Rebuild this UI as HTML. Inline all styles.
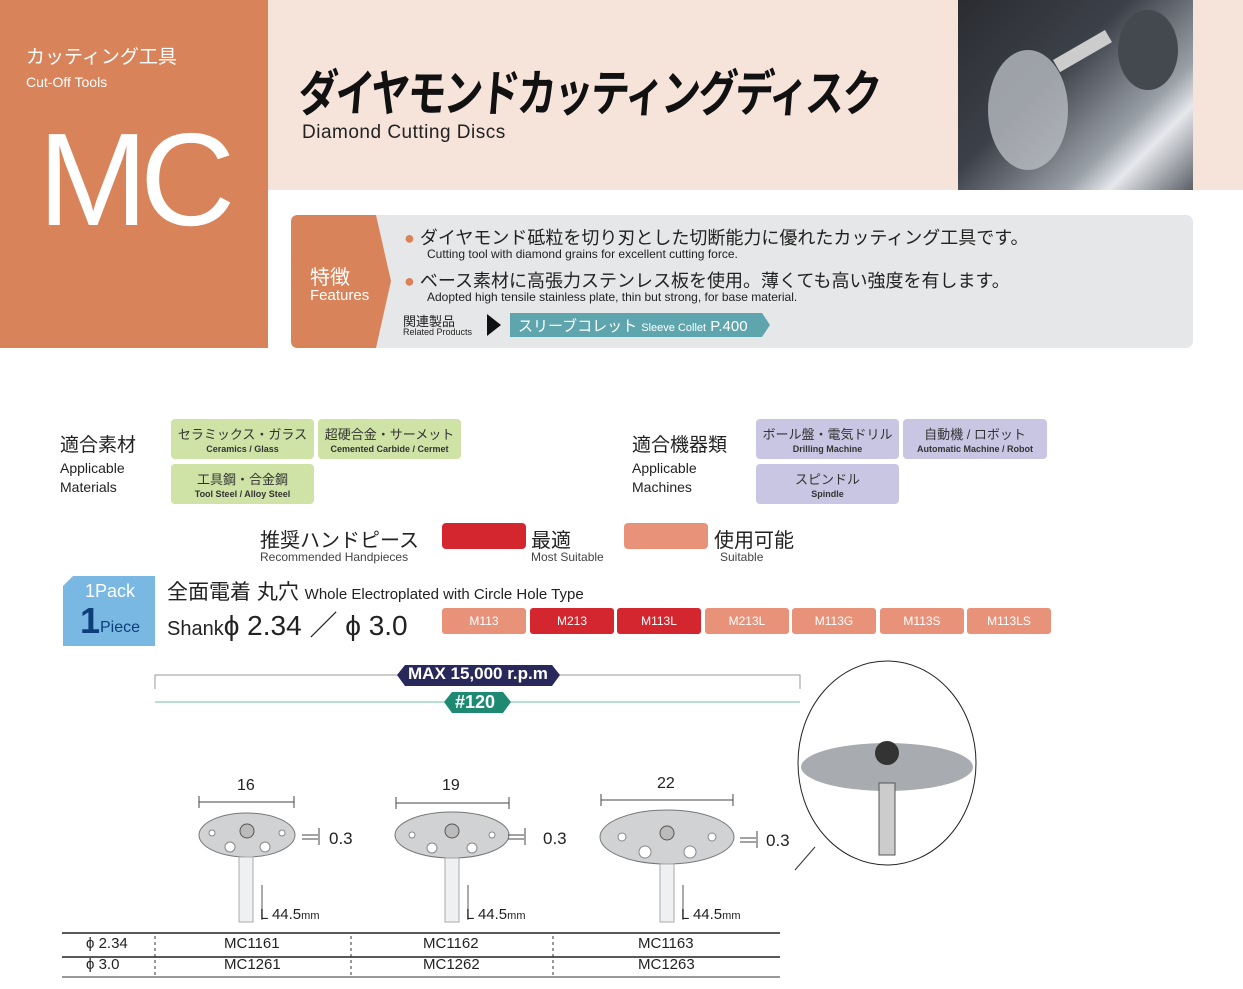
<!DOCTYPE html>
<html><head><meta charset="utf-8"><style>
*{margin:0;padding:0;box-sizing:border-box}
body{width:1243px;height:989px;position:relative;background:#fff;font-family:"Liberation Sans","Noto Sans CJK JP",sans-serif;overflow:hidden;color:#222}
.a{position:absolute;white-space:nowrap}
.chip{position:absolute;border-radius:4px;text-align:center;color:#333}
.chip b{display:block;font-size:13px;font-weight:normal;margin-top:5px}
.chip i{display:block;font-style:normal;font-size:9px;font-weight:bold;margin-top:1px}
.g{background:#cfe3a6}
.p{background:#c9c6e3}
.m{position:absolute;top:608px;width:84px;height:26px;border-radius:3px;color:#fff;font-size:12px;text-align:center;line-height:26px}
.lt{background:#e8927a}.dk{background:#d4262e}
</style></head><body>
<div class="a" style="left:0;top:0;width:268px;height:348px;background:#d9835a"></div>
<div class="a" style="left:268px;top:0;width:975px;height:190px;background:#f6e3da"></div>
<div class="a" style="left:958px;top:0;width:235px;height:190px;background:linear-gradient(135deg,#2a2c31 0%,#3c4048 40%,#9aa0a8 70%,#e6e8ec 80%,#5a5f66 100%)"></div>
<svg class="a" style="left:958px;top:0" width="235" height="190"><ellipse cx="70" cy="110" rx="40" ry="60" fill="#b8bcc2" opacity=".8"/><rect x="95" y="60" width="60" height="14" fill="#ccc" transform="rotate(-30 95 60)"/><ellipse cx="190" cy="50" rx="30" ry="40" fill="#44484f"/></svg>
<div class="a" style="left:26px;top:42px;color:#fff;font-size:19px">カッティング工具</div>
<div class="a" style="left:26px;top:74px;color:#fff;font-size:14px">Cut-Off Tools</div>
<div class="a" style="left:38px;top:100px;color:#fff;font-size:132px;line-height:160px;letter-spacing:-8px">MC</div>
<div class="a" style="left:302px;top:54px;font-size:50px;font-weight:bold;color:#111;letter-spacing:-3px;transform:scaleX(0.78) skewX(-6deg);transform-origin:left top">ダイヤモンドカッティングディスク</div>
<div class="a" style="left:302px;top:122px;font-size:19px;color:#222;letter-spacing:0.5px">Diamond Cutting Discs</div>
<div class="a" style="left:291px;top:215px;width:902px;height:133px;background:#e6e7e8;border-radius:7px"></div>
<svg class="a" style="left:291px;top:215px" width="100" height="133"><path d="M7 0H85L100 66L85 133H7Q0 133 0 126V7Q0 0 7 0Z" fill="#d9835a"/></svg>
<div class="a" style="left:310px;top:261px;color:#fff;font-size:20px">特徴</div>
<div class="a" style="left:310px;top:287px;color:#fff;font-size:15px">Features</div>
<div class="a" style="left:404px;top:224px;font-size:18px"><span style="color:#d9835a">●</span> ダイヤモンド砥粒を切り刃とした切断能力に優れたカッティング工具です。</div>
<div class="a" style="left:427px;top:247px;font-size:12px">Cutting tool with diamond grains for excellent cutting force.</div>
<div class="a" style="left:404px;top:267px;font-size:18px"><span style="color:#d9835a">●</span> ベース素材に高張力ステンレス板を使用。薄くても高い強度を有します。</div>
<div class="a" style="left:427px;top:290px;font-size:12px">Adopted high tensile stainless plate, thin but strong, for base material.</div>
<div class="a" style="left:403px;top:311px;font-size:13px">関連製品</div>
<div class="a" style="left:403px;top:327px;font-size:9px">Related Products</div>
<svg class="a" style="left:487px;top:314px" width="16" height="22"><path d="M0 0L14 11L0 22Z" fill="#111"/></svg>
<svg class="a" style="left:510px;top:313px" width="262" height="24"><path d="M0 0H252L260 12L252 24H0Z" fill="#5fa5ae"/></svg>
<div class="a" style="left:518px;top:315px;color:#fff;font-size:15px">スリーブコレット <span style="font-size:11px">Sleeve Collet</span> P.400</div>

<div class="a" style="left:60px;top:430px;font-size:19px">適合素材</div>
<div class="a" style="left:60px;top:459px;font-size:14px;line-height:19px">Applicable<br>Materials</div>
<div class="chip g" style="left:171px;top:419px;width:143px;height:40px"><b>セラミックス・ガラス</b><i>Ceramics / Glass</i></div>
<div class="chip g" style="left:318px;top:419px;width:143px;height:40px"><b>超硬合金・サーメット</b><i>Cemented Carbide / Cermet</i></div>
<div class="chip g" style="left:171px;top:464px;width:143px;height:40px"><b>工具鋼・合金鋼</b><i>Tool Steel / Alloy Steel</i></div>
<div class="a" style="left:632px;top:430px;font-size:19px">適合機器類</div>
<div class="a" style="left:632px;top:459px;font-size:14px;line-height:19px">Applicable<br>Machines</div>
<div class="chip p" style="left:756px;top:419px;width:143px;height:40px"><b>ボール盤・電気ドリル</b><i>Drilling Machine</i></div>
<div class="chip p" style="left:903px;top:419px;width:144px;height:40px"><b>自動機 / ロボット</b><i>Automatic Machine / Robot</i></div>
<div class="chip p" style="left:756px;top:464px;width:143px;height:40px"><b>スピンドル</b><i>Spindle</i></div>

<div class="a" style="left:260px;top:524px;font-size:20px">推奨ハンドピース</div>
<div class="a" style="left:260px;top:550px;font-size:12px;color:#444">Recommended Handpieces</div>
<div class="a" style="left:442px;top:523px;width:84px;height:26px;background:#d4262e;border-radius:4px"></div>
<div class="a" style="left:531px;top:524px;font-size:20px">最適</div>
<div class="a" style="left:531px;top:550px;font-size:12px;color:#444">Most Suitable</div>
<div class="a" style="left:624px;top:523px;width:84px;height:26px;background:#e8927a;border-radius:4px"></div>
<div class="a" style="left:714px;top:524px;font-size:20px">使用可能</div>
<div class="a" style="left:720px;top:550px;font-size:12px;color:#444">Suitable</div>

<svg class="a" style="left:63px;top:576px" width="92" height="70"><path d="M10 0H92V70H0V10Z" fill="#7ab8e4"/></svg>
<div class="a" style="left:85px;top:581px;color:#fff;font-size:18px">1Pack</div>
<div class="a" style="left:80px;top:600px;color:#0d3e7a;font-size:36px;font-weight:bold">1</div>
<div class="a" style="left:100px;top:619px;color:#0d3e7a;font-size:16px">Piece</div>
<div class="a" style="left:167px;top:576px;font-size:21px">全面電着 丸穴 <span style="font-size:15px">Whole Electroplated with Circle Hole Type</span></div>
<div class="a" style="left:167px;top:604px;font-size:20px">Shank<span style="font-size:28px">ϕ 2.34 ／ ϕ 3.0</span></div>
<div class="m lt" style="left:442px">M113</div>
<div class="m dk" style="left:530px">M213</div>
<div class="m dk" style="left:617px">M113L</div>
<div class="m lt" style="left:705px">M213L</div>
<div class="m lt" style="left:792px">M113G</div>
<div class="m lt" style="left:880px">M113S</div>
<div class="m lt" style="left:967px">M113LS</div>

<svg class="a" style="left:0;top:655px" width="1243" height="334">
<path d="M155 34V20H800V34" fill="none" stroke="#999"/>
<path d="M155 47H800" stroke="#6fbfa6"/>
<path d="M405 10H552L560 20L552 31H405L397 20Z" fill="#28285a"/>
<path d="M452 37H503L511 47L503 58H452L444 47Z" fill="#1e8a72"/>
<g fill="#d0d2d4" stroke="#777">
<ellipse cx="247" cy="180" rx="48" ry="22"/><ellipse cx="452" cy="180" rx="57" ry="23"/><ellipse cx="667" cy="182" rx="67" ry="27"/>
</g>
<g fill="#eef0f2" stroke="#aaa"><rect x="239" y="202" width="14" height="65"/><rect x="445" y="203" width="14" height="64"/><rect x="660" y="209" width="14" height="58"/></g>
<g fill="#fff" stroke="#888"><circle cx="230" cy="192" r="5"/><circle cx="265" cy="192" r="5"/><circle cx="212" cy="178" r="3"/><circle cx="282" cy="178" r="3"/><circle cx="432" cy="193" r="5"/><circle cx="472" cy="193" r="5"/><circle cx="412" cy="180" r="3"/><circle cx="492" cy="180" r="3"/><circle cx="645" cy="197" r="6"/><circle cx="690" cy="197" r="6"/><circle cx="622" cy="182" r="4"/><circle cx="712" cy="182" r="4"/></g>
<g fill="#bbb" stroke="#555"><circle cx="247" cy="176" r="7"/><circle cx="452" cy="176" r="7"/><circle cx="667" cy="178" r="7"/></g>
<g stroke="#444" fill="none"><path d="M199 147H294M199 141V153M294 141V153M396 148H509M396 142V154M509 142V154M601 145H733M601 139V151M733 139V151"/>
<path d="M302 180H318M302 184H318M319 173V190M508 180H524M508 184H524M525 173V190M740 183H756M740 187H756M757 176V193"/></g>
<g stroke="#555"><path d="M262 230V265M468 230V265M683 230V265"/></g>
<path d="M62 278H780M62 302H780" stroke="#222" stroke-width="1.5"/>
<path d="M62 322H780" stroke="#999" stroke-width="2"/>
<path d="M155 281V320M351 281V320M553 281V320" stroke="#333" stroke-dasharray="3 3"/>
<ellipse cx="887" cy="108" rx="89" ry="102" fill="#fff" stroke="#222"/>
<ellipse cx="887" cy="112" rx="86" ry="24" fill="#a8acb0"/>
<rect x="879" y="128" width="16" height="72" fill="#ccc" stroke="#555"/>
<circle cx="887" cy="98" r="12" fill="#333"/>
<path d="M815 192L795 215" stroke="#333"/>
</svg>
<div class="a" style="left:408px;top:664px;color:#fff;font-size:17px;font-weight:bold">MAX 15,000 r.p.m</div>
<div class="a" style="left:455px;top:692px;color:#fff;font-size:18px;font-weight:bold">#120</div>
<div class="a" style="left:237px;top:777px;font-size:16px">16</div>
<div class="a" style="left:442px;top:777px;font-size:16px">19</div>
<div class="a" style="left:657px;top:775px;font-size:16px">22</div>
<div class="a" style="left:329px;top:829px;font-size:17px">0.3</div>
<div class="a" style="left:543px;top:829px;font-size:17px">0.3</div>
<div class="a" style="left:766px;top:831px;font-size:17px">0.3</div>
<div class="a" style="left:260px;top:906px;font-size:15px">L 44.5<span style="font-size:11px">mm</span></div>
<div class="a" style="left:466px;top:906px;font-size:15px">L 44.5<span style="font-size:11px">mm</span></div>
<div class="a" style="left:681px;top:906px;font-size:15px">L 44.5<span style="font-size:11px">mm</span></div>
<div class="a" style="left:86px;top:935px;font-size:15px">ϕ 2.34</div>
<div class="a" style="left:86px;top:956px;font-size:15px">ϕ 3.0</div>
<div class="a" style="left:224px;top:935px;font-size:15px">MC1161</div>
<div class="a" style="left:224px;top:956px;font-size:15px">MC1261</div>
<div class="a" style="left:423px;top:935px;font-size:15px">MC1162</div>
<div class="a" style="left:423px;top:956px;font-size:15px">MC1262</div>
<div class="a" style="left:638px;top:935px;font-size:15px">MC1163</div>
<div class="a" style="left:638px;top:956px;font-size:15px">MC1263</div>
</body></html>
